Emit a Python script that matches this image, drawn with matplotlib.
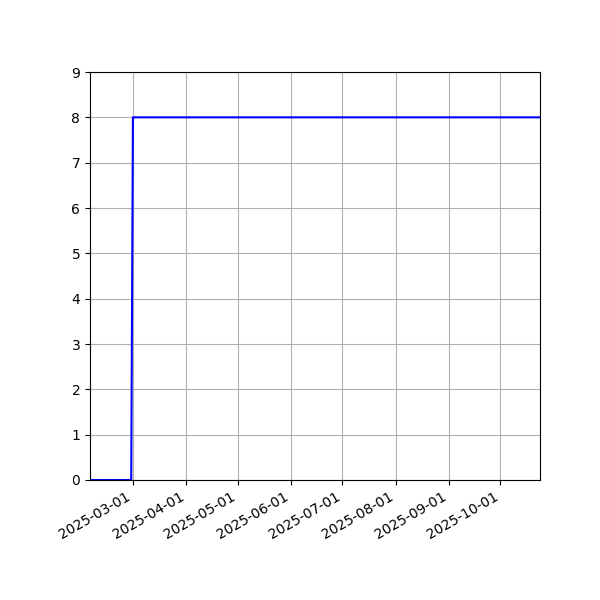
import matplotlib
matplotlib.use("Agg")
import matplotlib.pyplot as plt
import matplotlib.dates as mdates
import numpy as np

dates = np.array(['2025-02-04', '2025-02-28', '2025-03-01', '2025-10-24'], dtype='datetime64[D]')
values = [0, 0, 8, 8]
tick_dates = np.array(['2025-03-01', '2025-04-01', '2025-05-01', '2025-06-01',
                       '2025-07-01', '2025-08-01', '2025-09-01', '2025-10-01'], dtype='datetime64[D]')

fig, ax = plt.subplots(figsize=(6, 6), dpi=100)
ax.plot(dates, values, color='blue', linewidth=1.5)
ax.set_xlim(dates[0], dates[-1])
ax.set_ylim(0, 9)
ax.set_xticks(tick_dates)
ax.xaxis.set_major_formatter(mdates.DateFormatter('%Y-%m-%d'))
ax.grid(True)
fig.autofmt_xdate()
fig.subplots_adjust(left=0.15, right=0.9, top=0.88, bottom=0.2)
fig.savefig('out.png', dpi=100)
